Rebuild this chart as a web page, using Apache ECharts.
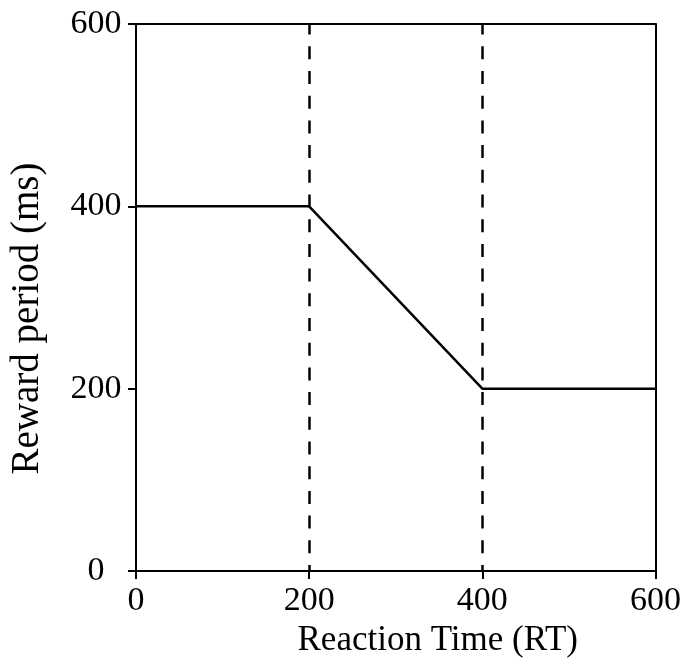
<!DOCTYPE html>
<html>
<head>
<meta charset="utf-8">
<script src="https://cdn.jsdelivr.net/npm/echarts@6/dist/echarts.min.js"></script>
<style>
html,body{margin:0;padding:0;background:#fff;}
#chart{width:684px;height:665px;}
</style>
</head>
<body>
<div id="chart"></div>
<script>
// Data
const rtValues = [0, 200, 400, 600];
const rewardValues = [400, 400, 200, 200];
const dashedAt = [200, 400];
const xTicks = [0, 200, 400, 600];
const yTicks = [0, 200, 400, 600];
const xTitle = 'Reaction Time (RT)';
const yTitle = 'Reward period (ms)';

const FONT = 'Liberation Serif, Times New Roman, serif';
const chart = echarts.init(document.getElementById('chart'));
const lineData = rtValues.map((x, i) => [x, rewardValues[i]]);

chart.setOption({
  backgroundColor: '#ffffff',
  animation: false,
  grid: { left: 135, right: 26, top: 24, bottom: 94 },
  xAxis: [{
    type: 'value', min: xTicks[0], max: xTicks[xTicks.length - 1], interval: 200,
    name: xTitle, nameLocation: 'middle', nameGap: 52,
    nameTextStyle: { fontFamily: FONT, fontSize: 35, color: '#000', padding: [0, 0, 0, 84] },
    axisLine: { lineStyle: { color: '#000', width: 2 } },
    axisTick: { show: true, length: 8, lineStyle: { color: '#000', width: 2 } },
    axisLabel: { fontFamily: FONT, fontSize: 34, color: '#000', margin: 13 },
    splitLine: { show: false }
  }, {
    type: 'value', position: 'top', min: 0, max: 600,
    axisLine: { show: true, onZero: false, lineStyle: { color: '#000', width: 2 } },
    axisTick: { show: false }, axisLabel: { show: false }, splitLine: { show: false }
  }],
  yAxis: [{
    type: 'value', min: yTicks[0], max: yTicks[yTicks.length - 1], interval: 200,
    name: yTitle, nameLocation: 'middle', nameGap: 89,
    nameTextStyle: { fontFamily: FONT, fontSize: 39, color: '#000', padding: [0, 42, 0, 0] },
    axisLine: { show: true, lineStyle: { color: '#000', width: 2 } },
    axisTick: { show: true, length: 8, lineStyle: { color: '#000', width: 2 } },
    axisLabel: { fontFamily: FONT, fontSize: 34, color: '#000', margin: 40, align: 'center' },
    splitLine: { show: false }
  }, {
    type: 'value', position: 'right', min: 0, max: 600,
    axisLine: { show: true, onZero: false, lineStyle: { color: '#000', width: 2 } },
    axisTick: { show: false }, axisLabel: { show: false }, splitLine: { show: false }
  }],
  series: [{
    type: 'line',
    data: lineData,
    symbol: 'none',
    lineStyle: { color: '#000', width: 2.5 },
    markLine: {
      silent: true,
      symbol: 'none',
      label: { show: false },
      lineStyle: { color: '#000', width: 2.5, type: [13, 11.7], dashOffset: 7 },
      data: dashedAt.map(v => ({ xAxis: v }))
    },
    z: 3
  }]
});
</script>
</body>
</html>
